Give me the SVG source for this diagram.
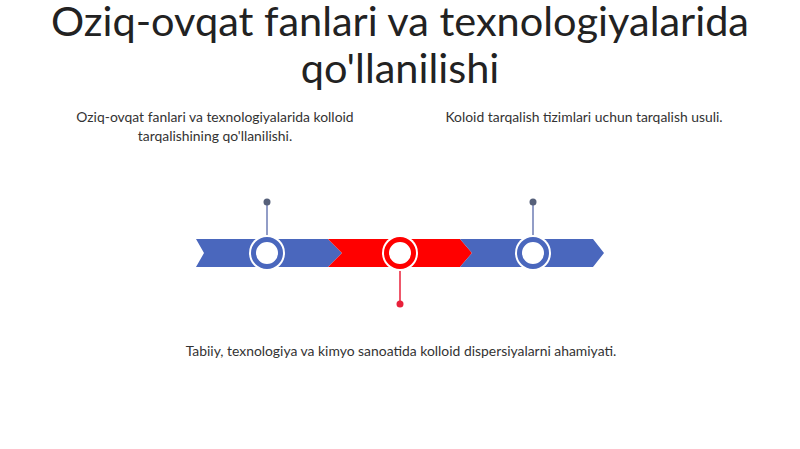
<svg xmlns="http://www.w3.org/2000/svg" width="800" height="449" viewBox="0 0 800 449">
<style>
.t{font-family:Lato,"Open Sans","Liberation Sans",sans-serif;fill:#222;text-anchor:middle}
.title{font-size:41.5px}
.lbl{font-size:13.9px;fill:#333}
.blue{fill:#4A67BD}
.red{fill:#FF0000}
.ring{fill:#fff;stroke-width:5}
.pinb{stroke:#6E7DB5;stroke-width:1.5}
.pinr{stroke:#E8213A;stroke-width:1.5}
</style>
<rect width="800" height="449" fill="#fff"/>
<g id="title">
<text class="t title" x="400" y="36">Oziq-ovqat fanlari va texnologiyalarida</text>
<text class="t title" x="400" y="83">qo'llanilishi</text>
</g>
<g id="band">
<polygon class="blue" points="196,239 328,239 342,253 328,267 196,267 204,253"/>
<polygon class="red" points="328,239 460,239 472,253 460,267 328,267 342,253"/>
<polygon class="blue" points="460,239 593,239 604,253 593,267 460,267 472,253"/>
</g>
<g id="connectors">
<line class="pinb" x1="267" y1="202" x2="267" y2="238"/>
<line class="pinr" x1="400" y1="268" x2="400" y2="304"/>
<line class="pinb" x1="533" y1="202" x2="533" y2="238"/>
</g>
<g id="node1">
<circle cx="267" cy="253" r="18" fill="#fff"/>
<circle class="ring" cx="267" cy="253" r="13.5" stroke="#4A67BD"/>
<circle cx="267" cy="202" r="3.5" fill="#56607A"/>
<text class="t lbl" x="215" y="122">Oziq-ovqat fanlari va texnologiyalarida kolloid</text>
<text class="t lbl" x="215" y="141">tarqalishining qo'llanilishi.</text>
</g>
<g id="node2">
<circle cx="400" cy="253" r="18" fill="#fff"/>
<circle class="ring" cx="400" cy="253" r="13.5" stroke="#FF0000"/>
<circle cx="400" cy="304" r="3.5" fill="#E8213A"/>
<text class="t lbl" x="401" y="356">Tabiiy, texnologiya va kimyo sanoatida kolloid dispersiyalarni ahamiyati.</text>
</g>
<g id="node3">
<circle cx="533" cy="253" r="18" fill="#fff"/>
<circle class="ring" cx="533" cy="253" r="13.5" stroke="#4A67BD"/>
<circle cx="533" cy="202" r="3.5" fill="#56607A"/>
<text class="t lbl" x="584" y="122">Koloid tarqalish tizimlari uchun tarqalish usuli.</text>
</g>
</svg>
